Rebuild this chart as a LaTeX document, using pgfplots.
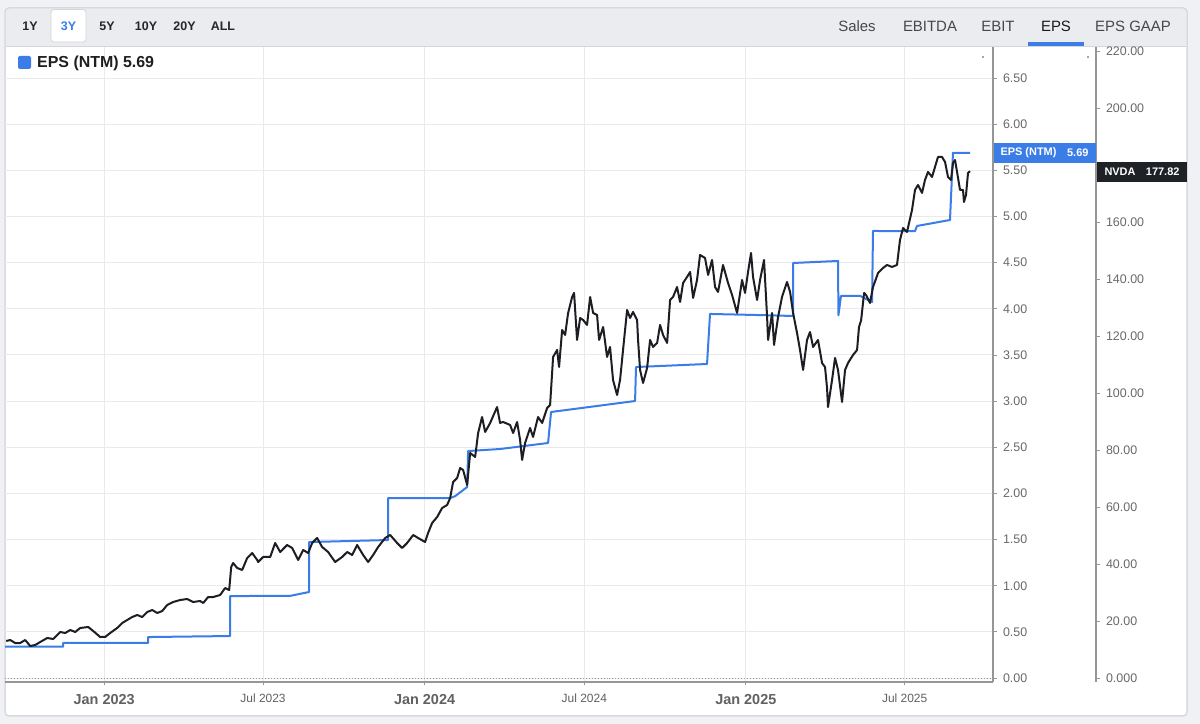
\documentclass[border=0pt]{standalone}
\usepackage{pgfplots}
\usepackage{pgfplotstable}
\pgfplotsset{compat=1.18}
\usepackage{fontspec}
\setmainfont{Liberation Sans}
\definecolor{epsblue}{RGB}{58,125,231}
\definecolor{nvdablack}{RGB}{28,30,35}
\definecolor{gridgray}{RGB}{234,234,236}
\definecolor{tickgray}{RGB}{105,105,108}
\definecolor{axisgray}{RGB}{150,150,152}
\definecolor{pagebg}{RGB}{240,241,244}
\definecolor{tabbg}{RGB}{235,236,239}
\definecolor{cardborder}{RGB}{212,214,218}
\definecolor{tagdark}{RGB}{30,33,38}

% EPS (NTM), x = days since 1 Jan 2023
\pgfplotstableread{
d eps
-113 0.34
-46.7 0.34
-46.7 0.38
50.1 0.38
50.1 0.444
143.5 0.455
143.5 0.888
211.9 0.89
233.5 0.932
233.5 1.473
323.5 1.495
323.5 1.95
394.1 1.95
399.8 1.97
413.5 2.069
414.6 2.459
451.0 2.481
505.7 2.546
509.1 2.882
604.8 3.001
605.9 3.369
686.8 3.402
690.2 3.944
755.2 3.93
784.8 3.922
784.8 4.496
836.0 4.518
836.5 3.93
839.4 4.139
861.1 4.14
874.8 4.074
875.9 4.843
923.7 4.84
926.0 4.897
963.6 4.962
967.0 5.69
986.4 5.69
}\epstable

% NVDA price, x = days since 1 Jan 2023
\pgfplotstableread{
d price
-111.6 12.98
-107.1 13.33
-101.4 12.28
-95.7 12.28
-90.0 13.33
-84.3 11.23
-78.6 11.58
-72.9 12.63
-64.9 14.04
-58.1 13.69
-50.1 16.14
-44.4 15.79
-38.7 16.84
-33.0 16.14
-27.3 17.55
-18.2 17.90
-12.5 16.49
-4.6 14.39
1.1 14.39
6.8 15.79
14.8 17.55
20.5 19.30
26.2 20.35
31.9 21.40
37.6 22.11
43.3 21.40
49.0 23.16
54.7 23.86
60.4 22.81
66.1 23.51
71.8 25.62
78.6 26.67
86.6 27.37
94.5 27.72
101.4 26.67
109.3 27.02
112.8 26.32
118.5 28.42
124.2 28.42
132.1 29.12
137.8 31.58
142.4 30.88
144.7 38.95
146.9 40.35
151.5 38.60
157.2 37.90
162.9 42.11
168.6 43.86
174.3 41.41
175.4 40.70
181.1 42.46
189.1 42.46
194.8 47.37
200.5 44.21
208.4 46.67
214.1 45.62
221.0 41.41
226.7 44.92
232.4 43.86
236.9 47.37
242.6 49.13
248.3 45.97
255.1 44.21
263.1 40.70
271.1 42.46
276.8 44.21
282.5 43.16
288.2 46.67
295.0 43.16
300.7 40.70
306.4 43.16
312.1 45.97
320.1 49.13
325.8 50.18
333.7 47.37
339.4 45.62
345.1 47.37
352.0 50.18
357.6 49.13
365.6 47.72
369.0 50.88
373.6 54.39
379.3 56.49
385.0 59.65
390.7 60.71
394.1 63.16
397.5 68.78
402.1 70.18
405.5 73.69
408.9 72.99
413.5 67.72
416.9 78.95
422.6 77.55
426.0 85.97
430.5 91.58
434.0 86.32
439.7 89.48
447.6 95.09
451.0 89.48
454.5 89.83
462.4 88.78
465.9 85.97
470.4 89.83
473.8 83.51
476.1 76.50
479.5 82.46
485.2 87.73
488.6 84.57
494.3 91.58
498.9 89.48
504.6 94.74
508.0 95.80
511.4 112.64
516.0 115.10
518.2 109.13
521.7 122.11
525.1 120.36
528.5 128.08
533.1 133.69
535.3 135.10
538.7 118.60
542.2 126.32
545.6 125.62
550.1 123.87
553.6 133.69
557.0 128.08
561.5 127.37
563.8 118.60
568.4 123.16
572.9 112.64
576.3 116.15
579.7 104.57
584.3 99.30
587.7 104.57
591.1 115.10
595.7 129.13
599.1 126.32
602.5 128.43
607.1 125.62
608.2 118.60
610.5 108.08
613.9 103.52
618.5 108.78
621.9 118.60
625.3 116.15
629.9 117.55
633.3 123.87
636.7 120.36
641.3 117.55
644.7 132.64
648.1 133.69
652.6 137.20
656.1 131.94
659.5 138.61
664.0 140.71
667.5 142.46
670.9 133.34
675.4 139.66
678.8 148.43
684.5 147.38
688.0 141.41
692.5 146.68
695.9 137.20
699.3 135.45
705.0 144.92
710.7 138.61
715.3 134.39
721.0 128.08
726.7 139.66
730.1 135.10
733.5 142.46
736.9 149.13
739.2 140.71
743.8 132.64
747.2 139.66
751.7 146.68
755.2 126.67
756.3 118.60
760.9 128.08
763.1 116.85
767.7 126.67
772.2 133.69
777.9 138.96
781.4 135.45
784.8 128.08
789.3 121.06
792.7 115.10
796.2 108.08
800.7 118.60
804.1 121.41
807.6 116.15
813.2 118.60
817.8 110.53
821.2 109.13
823.5 101.76
824.6 95.09
829.2 104.57
832.6 112.29
836.0 108.08
840.6 96.85
844.0 108.08
847.4 110.53
853.1 113.34
857.7 115.10
859.9 123.16
862.3 125.5
865.7 135.1
867.9 134.39
872.4 131.59
875.9 137.20
881.6 142.11
887.3 143.87
891.8 144.92
897.5 144.22
903.2 144.92
906.6 153.69
910.1 157.90
914.6 156.50
920.3 164.22
923.7 171.24
927.1 172.99
931.7 170.19
935.1 174.75
938.5 177.56
943.1 175.80
946.5 179.31
949.9 182.82
954.5 182.82
957.9 181.06
961.3 175.80
964.7 174.75
967.0 180.71
969.3 181.76
971.6 177.56
975.0 171.24
978.4 171.24
979.5 167.03
981.8 169.49
984.1 177.20
986.4 177.82
}\nvdatable

\begin{document}
\begin{tikzpicture}
\useasboundingbox (0,0) rectangle (1200bp,724bp);
% ---------- frame (pixel coordinates, y downwards) ----------
\begin{scope}[x=1bp,y=-1bp,yshift=724bp]
  \fill[pagebg] (0,0) rectangle (1200,724);
  \filldraw[fill=white,draw=cardborder,line width=1bp,rounded corners=4bp] (5,8) rectangle (1187,716);
  \begin{scope}
    \clip[rounded corners=4bp] (5,8) rectangle (1187,716);
    \fill[tabbg] (5,8) rectangle (1187,47);
  \end{scope}
  \draw[cardborder,line width=1bp,rounded corners=4bp] (5,8) rectangle (1187,716);
  \draw[cardborder,line width=1bp] (5,47) -- (1187,47);
  \filldraw[fill=white,draw=cardborder,line width=0.8bp,rounded corners=3bp] (51,9.5) rectangle (86,42);
  \begin{scope}[every node/.style={font=\fontsize{12.5}{14}\selectfont\bfseries,text=black!85}]
    \node at (30,26) {1Y};
    \node[text=epsblue] at (68.5,26) {3Y};
    \node at (107,26) {5Y};
    \node at (146,26) {10Y};
    \node at (184.5,26) {20Y};
    \node at (223,26) {ALL};
  \end{scope}
  \begin{scope}[every node/.style={font=\fontsize{15}{17}\selectfont,text=black!72}]
    \node at (857,26) {Sales};
    \node at (930,26) {EBITDA};
    \node at (998,26) {EBIT};
    \node[text=black!90] at (1056,26) {EPS};
    \node at (1133,26) {EPS GAAP};
  \end{scope}
  \fill[epsblue] (1028,42.5) rectangle (1084,46);
\end{scope}

% ---------- EPS axis ----------
\begin{axis}[
  at={(5bp,42bp)}, anchor=south west, scale only axis,
  width=988bp, height=635bp,
  xmin=-113, xmax=1012.6, ymin=-0.043, ymax=6.836,
  axis x line*=bottom, axis y line*=right,
  axis line style={-, axisgray, line width=1.3bp},
  xtick={0,181,365,547,731,912},
  xticklabels={{\fontsize{14.5}{16}\selectfont\bfseries Jan 2023},{\fontsize{12}{14}\selectfont Jul 2023},{\fontsize{14.5}{16}\selectfont\bfseries Jan 2024},{\fontsize{12}{14}\selectfont Jul 2024},{\fontsize{14.5}{16}\selectfont\bfseries Jan 2025},{\fontsize{12}{14}\selectfont Jul 2025}},
  ytick={0,0.5,1,1.5,2,2.5,3,3.5,4,4.5,5,5.5,6,6.5},
  yticklabels={0.00,0.50,1.00,1.50,2.00,2.50,3.00,3.50,4.00,4.50,5.00,5.50,6.00,6.50},
  xmajorgrids, ymajorgrids,
  grid style={gridgray, line width=0.9bp},
  tick align=outside, major tick length=3.5bp,
  tick style={axisgray, line width=0.8bp},
  xticklabel style={text=black!62, anchor=north, yshift=-5bp},
  yticklabel style={font=\fontsize{12.5}{14}\selectfont, text=tickgray, anchor=west, xshift=3bp},
  clip=true,
]
\draw[axisgray, dotted, line width=1bp] (axis cs:-113,0) -- (axis cs:1012.6,0);
\addplot[epsblue, line width=2bp, line join=round, mark=none] table[x=d, y=eps] {\epstable};
\end{axis}

% ---------- NVDA price axis ----------
\begin{axis}[
  at={(5bp,42bp)}, anchor=south west, scale only axis,
  width=1091bp, height=635bp,
  xmin=-113, xmax=1129.9, ymin=-1.40, ymax=221.4,
  axis x line=none, axis y line*=right,
  axis line style={-, axisgray, line width=1.3bp},
  ytick={0,20,40,60,80,100,120,140,160,180,200,220},
  yticklabels={0.000,20.00,40.00,60.00,80.00,100.00,120.00,140.00,160.00,{},200.00,220.00},
  tick align=outside, major tick length=3.5bp,
  tick style={axisgray, line width=0.8bp},
  yticklabel style={font=\fontsize{12.5}{14}\selectfont, text=tickgray, anchor=west, xshift=3bp},
]
\addplot[nvdablack, line width=2bp, line join=round, mark=none] table[x=d, y=price] {\nvdatable};
\end{axis}

% ---------- tags and legend ----------
\begin{scope}[x=1bp,y=-1bp,yshift=724bp]
  \fill[epsblue] (993.5,143) rectangle (1096,163);
  \node[anchor=west, text=white, font=\fontsize{11}{13}\selectfont\bfseries] at (997,153) {EPS (NTM)};
  \node[anchor=east, text=white, font=\fontsize{11}{13}\selectfont\bfseries] at (1092,153) {5.69};
  \fill[tagdark] (1097,162) rectangle (1187,182);
  \node[anchor=west, text=white, font=\fontsize{11}{13}\selectfont\bfseries] at (1101,172) {NVDA};
  \node[anchor=east, text=white, font=\fontsize{11}{13}\selectfont\bfseries] at (1183,172) {177.82};
  \fill[epsblue, rounded corners=2bp] (18,56) rectangle (31,69);
  \node[anchor=west, text=black!88, font=\fontsize{16}{18}\selectfont\bfseries, inner sep=0pt] at (37,63) {EPS (NTM) 5.69};
  \fill[black!70] (983,57) circle (0.8);
  \fill[black!70] (1088,57) circle (0.8);
\end{scope}
\end{tikzpicture}
\end{document}
